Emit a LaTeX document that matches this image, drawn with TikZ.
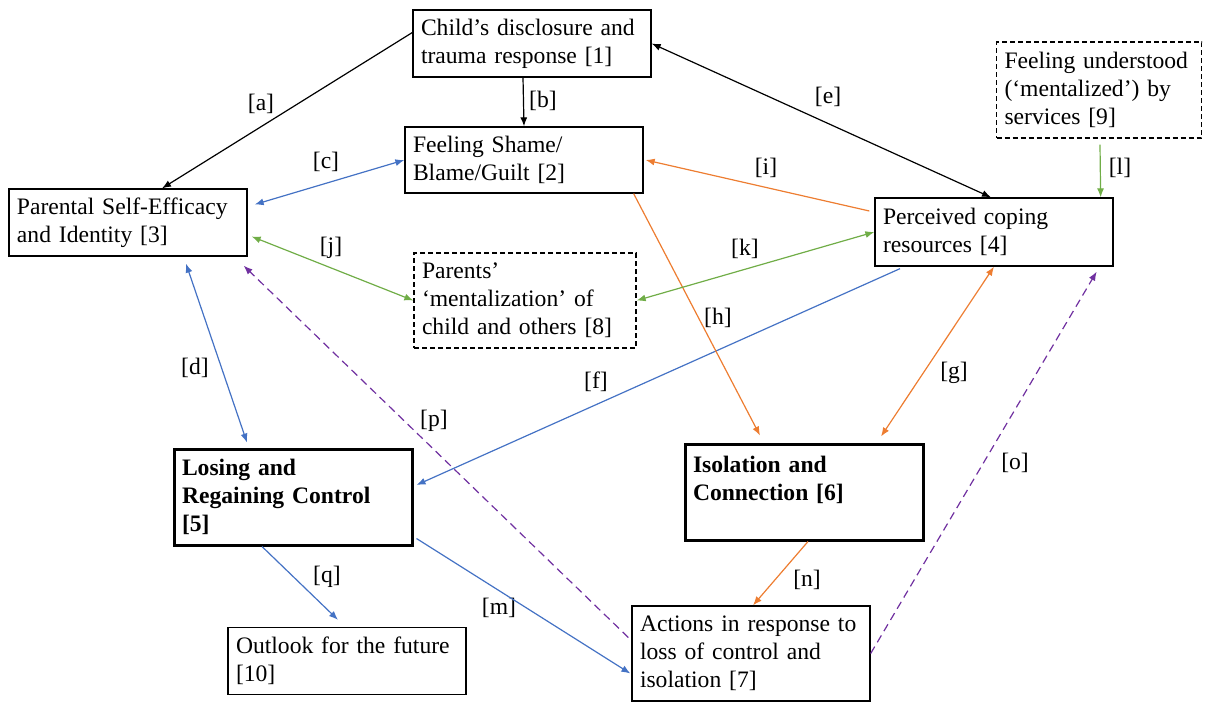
\documentclass[tikz,border=0pt]{standalone}
\usepackage{fontspec}
\setmainfont{Liberation Serif}
\usetikzlibrary{arrows.meta,calc}
\definecolor{ablue}{HTML}{4472C4}
\definecolor{aorange}{HTML}{ED7D31}
\definecolor{agreen}{HTML}{70AD47}
\definecolor{apurple}{HTML}{7030A0}
\begin{document}
\begin{tikzpicture}[x=0.5pt, y=-0.5pt,
    font=\fontsize{11.8}{14}\selectfont,
    >={Latex[length=4.5pt,width=3.5pt]},
    box/.style={draw, line width=0.65pt, align=left, inner xsep=4pt, inner ysep=3pt, text width=111pt, minimum height=33.5pt},
    dbox/.style={box, dash pattern=on 2.5pt off 1.5pt},
    bbox/.style={box, line width=1.5pt, font=\fontsize{11.8}{14}\selectfont\bfseries, minimum height=48pt},
    lnk/.style={line width=0.6pt},
    pdash/.style={lnk, apurple, dash pattern=on 4pt off 2.5pt},
    tag/.style={inner sep=1pt}]
        \useasboundingbox (0,0) rectangle (1205,702);

        % Nodes
        \node (child) [box] at (532,43.5) {Child’s disclosure and\\trauma response [1]};
        \node (shame) [box, minimum height=33pt] at (524,160) {Feeling Shame/\\Blame/Guilt [2]};
        \node (selfeff) [box] at (128,222.5) {Parental Self-Efficacy\\and Identity [3]};
        \node (coping) [box, minimum height=34pt] at (994,232) {Perceived coping\\resources [4]};
        \node (control) [bbox] at (293,497) {Losing and\\Regaining Control\\{[5]}};
        \node (isol) [bbox] at (804,492) {Isolation and\\Connection [6]\\\mbox{}};
        \node (actions) [box, minimum height=47.5pt] at (751,653.5) {Actions in response to\\loss of control and\\isolation [7]};
        \node (mentpar) [dbox, text width=103pt, minimum height=47.5pt] at (525,300.5) {Parents’\\‘mentalization’ of\\child and others [8]};
        \node (mentserv) [dbox, text width=94.5pt, minimum height=48pt] at (1099,90) {Feeling understood\\(‘mentalized’) by\\services [9]};
        \node (outlook) [box] at (347,661) {Outlook for the future\\{[10]}};

        % Labels
        \node (la) [tag] at (261,104) {[a]};
        \node (lb) [tag] at (543,101) {[b]};
        \node (lc) [tag] at (326,162) {[c]};
        \node (ld) [tag] at (195,368) {[d]};
        \node (le) [tag] at (828,97) {[e]};
        \node (lf) [tag] at (596,382) {[f]};
        \node (lg) [tag] at (954,373) {[g]};
        \node (lh) [tag] at (718,318) {[h]};
        \node (li) [tag] at (766,168) {[i]};
        \node (lj) [tag] at (331,248) {[j]};
        \node (lk) [tag] at (745,249) {[k]};
        \node (ll) [tag] at (1120,168) {[l]};
        \node (lm) [tag] at (499,608) {[m]};
        \node (ln) [tag] at (807,580) {[n]};
        \node (lo) [tag] at (1015,463) {[o]};
        \node (lp) [tag] at (434,421) {[p]};
        \node (lq) [tag] at (327,577) {[q]};

        % Edges
        \draw [lnk, ->] ($(child.west)+(0,-11)$) -- ($(selfeff.north)+(34,0)$);
        \draw [lnk, ->] ($(child.south)+(-9,0)$) -- (shame.north);
        \draw [lnk, <->, ablue] ($(selfeff.east)+(7,-18)$) -- (shame.west);
        \draw [lnk, <->, ablue] ($(selfeff.south)+(58,7)$) -- ($(control.north)+(-46,-5)$);
        \draw [lnk, <->] (child.east) -- ($(coping.north)+(-3,0)$);
        \draw [lnk, ->, ablue] ($(coping.south)+(-94,2)$) -- ($(control.east)+(3,-12)$);
        \draw [lnk, <->, aorange] (coping.south) -- ($(isol.north)+(77,-6)$);
        \draw [lnk, ->, aorange] ($(shame.south east)+(-10,0)$) -- ($(isol.north)+(-44,-7)$);
        \draw [lnk, ->, aorange] ($(coping.west)+(-5,-21)$) -- ($(shame.east)+(2,0)$);
        \draw [lnk, <->, agreen] ($(selfeff.east)+(4,14)$) -- (mentpar.west);
        \draw [lnk, <->, agreen] (coping.west) -- (mentpar.east);
        \draw [lnk, ->, agreen] ($(mentserv.south)+(1,6)$) -- ($(coping.north east)+(-13,0)$);
        \draw [lnk, ->, ablue] ($(control.south east)+(3,-8)$) -- ($(actions.west)+(-1,20)$);
        \draw [lnk, ->, aorange] ($(isol.south)+(4,0)$) -- ($(actions.north)+(2,0)$);
        \draw [pdash, ->] (actions.east) -- ($(coping.south east)+(-17,5)$);
        \draw [pdash, ->] ($(actions.west)+(-3,-16)$) -- ($(selfeff.south east)+(-4,9)$);
        \draw [lnk, ->, ablue] ($(control.south)+(-31,0)$) -- ($(outlook.north)+(-9,-7)$);

    \end{tikzpicture}
\end{document}
